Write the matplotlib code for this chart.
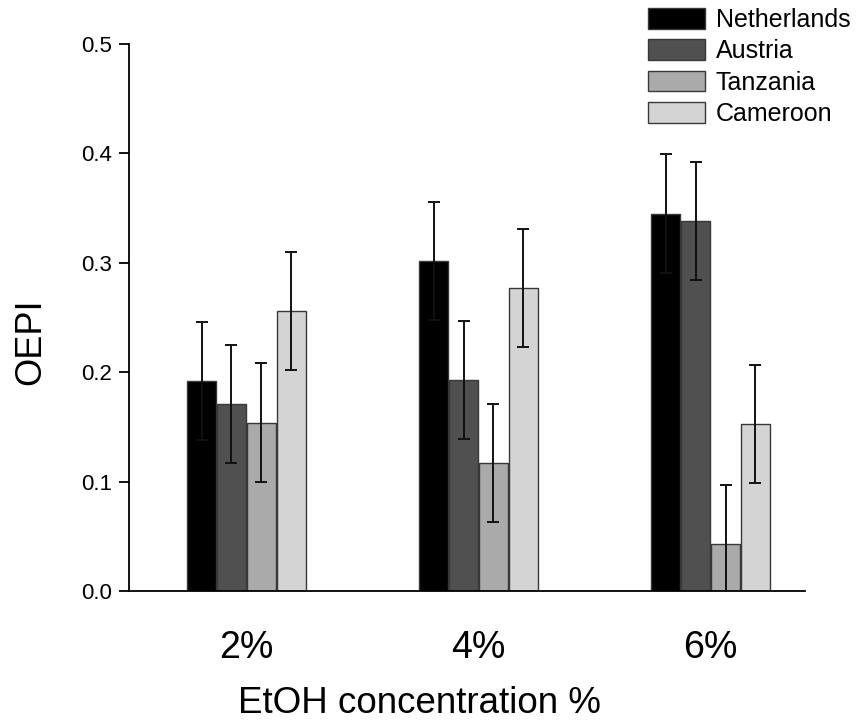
import numpy as np
import matplotlib.pyplot as plt

plt.rcParams['font.family'] = ['Liberation Sans', 'DejaVu Sans']

concentrations = ['2%', '4%', '6%']
countries = ['Netherlands', 'Austria', 'Tanzania', 'Cameroon']
netherlands = [0.192, 0.302, 0.345]
austria = [0.171, 0.193, 0.338]
tanzania = [0.154, 0.117, 0.043]
cameroon = [0.256, 0.277, 0.153]
netherlands_err = [0.054, 0.054, 0.054]
austria_err = [0.054, 0.054, 0.054]
tanzania_err = [0.054, 0.054, 0.054]
cameroon_err = [0.054, 0.054, 0.054]

values = [netherlands, austria, tanzania, cameroon]
errors = [netherlands_err, austria_err, tanzania_err, cameroon_err]
colors = ['#000000', '#505050', '#aaaaaa', '#d4d4d4']

x = np.arange(1, len(concentrations) + 1)
step = 0.129
width = 0.123

fig = plt.figure(figsize=(8.58, 7.22), dpi=100)
ax = fig.add_axes([129 / 858, 1 - 591 / 722, (805 - 129) / 858, (591 - 44) / 722])

for i, (vals, errs, c) in enumerate(zip(values, errors, colors)):
    pos = x + (i - 1.5) * step
    ax.bar(pos, vals, width, color=c, edgecolor='#383838', linewidth=1.0,
           label=countries[i], zorder=2)
    ax.errorbar(pos, vals, yerr=errs, fmt='none', ecolor='#111111',
                elinewidth=1.4, capsize=4, capthick=1.4, zorder=3)

ax.set_xlim(0.494, 3.407)
ax.set_ylim(0, 0.5)
ax.set_yticks([0.0, 0.1, 0.2, 0.3, 0.4, 0.5])
ax.set_yticklabels(['0.0', '0.1', '0.2', '0.3', '0.4', '0.5'])
ax.set_xticks(x)
ax.set_xticklabels(concentrations)

ax.spines['top'].set_visible(False)
ax.spines['right'].set_visible(False)
ax.spines['left'].set_linewidth(1.3)
ax.spines['bottom'].set_linewidth(1.3)

ax.tick_params(axis='y', direction='out', length=7.5, width=1.3, labelsize=16, pad=5)
ax.tick_params(axis='x', length=0, labelsize=27, pad=28)

ax.set_xlabel('EtOH concentration %', fontsize=26.5)
ax.xaxis.set_label_coords(0.429, -0.174)
ax.set_ylabel('OEPI', fontsize=26)
ax.yaxis.set_label_coords(-0.119, 0.455)

ax.legend(loc='upper left', bbox_to_anchor=(648 / 858, 1 - 8 / 722),
          bbox_transform=fig.transFigure, frameon=False, fontsize=18,
          handlelength=2.28, handleheight=0.9, handletextpad=0.44,
          labelspacing=0.29, borderpad=0, borderaxespad=0)

fig.savefig('out.png', dpi=100)
